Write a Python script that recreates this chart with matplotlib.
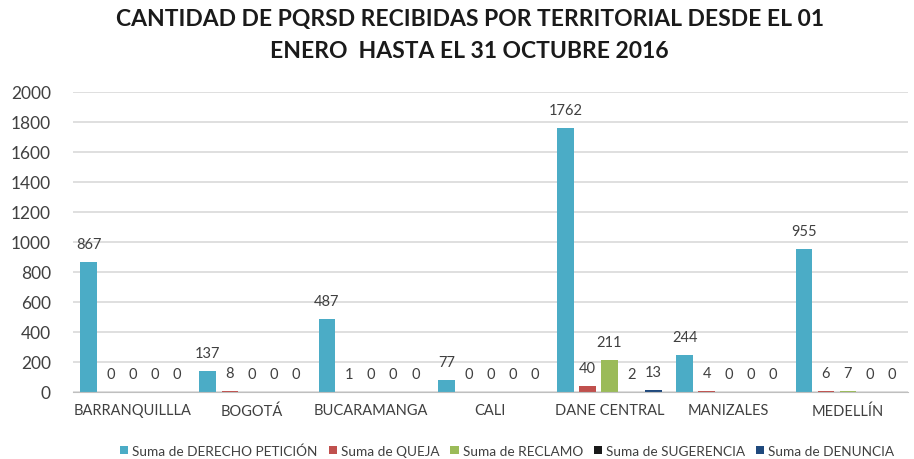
import matplotlib
matplotlib.use("Agg")
import matplotlib.pyplot as plt
import numpy as np
from matplotlib.patches import Patch

plt.rcParams['font.family'] = ['Lato', 'DejaVu Sans']

categories = ["BARRANQUILLLA", "BOGOTÁ", "BUCARAMANGA", "CALI", "DANE CENTRAL", "MANIZALES", "MEDELLÍN"]
series_names = ["Suma de DERECHO PETICIÓN", "Suma de QUEJA", "Suma de RECLAMO", "Suma de SUGERENCIA", "Suma de DENUNCIA"]
derecho = [867, 137, 487, 77, 1762, 244, 955]
queja = [0, 8, 1, 0, 40, 4, 6]
reclamo = [0, 0, 0, 0, 211, 0, 7]
sugerencia = [0, 0, 0, 0, 2, 0, 0]
denuncia = [0, 0, 0, 0, 13, 0, 0]
series = [derecho, queja, reclamo, sugerencia, denuncia]
colors = ["#4BACC6", "#C0504D", "#9BBB59", "#1a1a1a", "#1F497D"]
yticks = [0, 200, 400, 600, 800, 1000, 1200, 1400, 1600, 1800, 2000]

fig = plt.figure(figsize=(9.14, 4.6), dpi=100)
ax = fig.add_axes([0.08, 0.1457, 0.913, 0.6522])

x = np.arange(len(categories))
step = 0.185
width = 0.14
for i, (vals, c) in enumerate(zip(series, colors)):
    pos = x + (i - 2) * step
    ax.bar(pos, vals, width=width, color=c, zorder=3)
    for p, v in zip(pos, vals):
        ax.annotate(str(v), (p, v), xytext=(0, 13), textcoords='offset points',
                    ha='center', va='center', fontsize=10.5, color='#404040')

ax.set_xlim(-0.5, len(categories) - 0.5)
ax.set_ylim(0, 2000)
ax.set_yticks(yticks)
ax.set_yticklabels([str(t) for t in yticks], fontsize=12.5, color='#404040')
ax.set_xticks(x)
ax.set_xticklabels(categories, fontsize=10.5, color='#404040')
ax.tick_params(axis='both', length=0, pad=8)
ax.tick_params(axis='y', pad=16)
ax.yaxis.grid(True, color='#D9D9D9', linewidth=1.2, zorder=0)
for s in ['top', 'right', 'left']:
    ax.spines[s].set_visible(False)
ax.spines['bottom'].set_color('#BFBFBF')
ax.spines['bottom'].set_zorder(4)

fig.text(0.514, 0.958, "CANTIDAD DE PQRSD RECIBIDAS POR TERRITORIAL DESDE EL 01", ha='center', va='center',
         fontsize=16.5, fontweight='bold', color='#1a1a1a')
fig.text(0.514, 0.888, "ENERO  HASTA EL 31 OCTUBRE 2016", ha='center', va='center',
         fontsize=16.5, fontweight='bold', color='#1a1a1a')

handles = [Patch(facecolor=c, label=n) for c, n in zip(colors, series_names)]
fig.legend(handles=handles, loc='center', bbox_to_anchor=(0.555, 0.018), ncol=5, frameon=False,
           fontsize=9.8, handlelength=0.6, handleheight=0.6, handletextpad=0.3, columnspacing=0.8,
           labelcolor='#404040')

fig.savefig("out.png", dpi=100)
